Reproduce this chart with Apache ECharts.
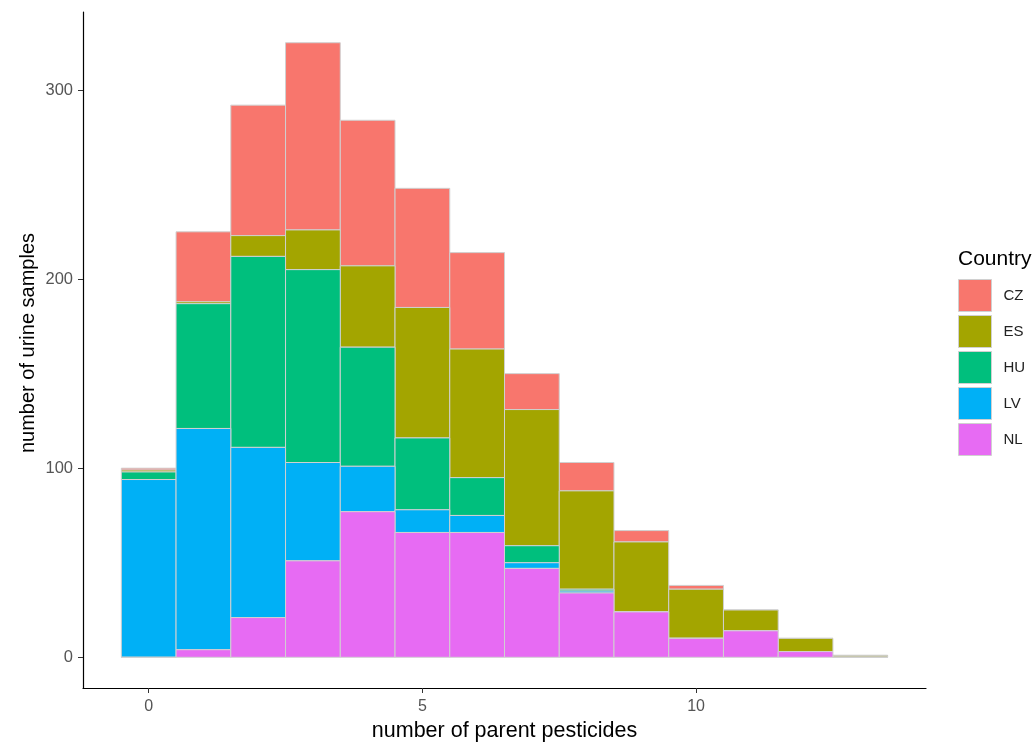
<!DOCTYPE html>
<html>
<head>
<meta charset="utf-8">
<script src="https://cdn.jsdelivr.net/npm/echarts@6/dist/echarts.min.js"></script>
<style>html,body{margin:0;padding:0;background:#fff}#c{width:1036px;height:744px}</style>
</head>
<body>
<div id="c"></div>
<script>
// bins: number of parent pesticides
const bins = [0,1,2,3,4,5,6,7,8,9,10,11,12,13];
// counts per country (stacked bottom -> top: NL, LV, HU, ES, CZ)
const NL = [0, 4, 21, 51, 77, 66, 66, 47, 34, 24, 10, 14, 3, 0];
const LV = [94,117,90, 52, 24, 12,  9,  3,  1,  0,  0,  0, 0, 0];
const HU = [4, 66,101,102, 63, 38, 20,  9,  1,  0,  0,  0, 0, 0];
const ES = [1,  1, 11, 21, 43, 69, 68, 72, 52, 37, 26, 11, 7, 1];
const CZ = [1, 37, 69, 99, 77, 63, 51, 19, 15,  6,  2,  0, 0, 0];
const countries = ['CZ','ES','HU','LV','NL'];
const colors = {CZ:'#F8766D', ES:'#A3A500', HU:'#00BF7D', LV:'#00B0F6', NL:'#E76BF3'};
const xTicks = [0,5,10];
const yTicks = [0,100,200,300];

const stackOrder = [['NL',NL],['LV',LV],['HU',HU],['ES',ES],['CZ',CZ]];
const base = bins.map(()=>0);
const dataByName = {};
stackOrder.forEach(([name, vals])=>{
  dataByName[name] = bins.map((b,i)=>{
    const lo = base[i], hi = base[i] + vals[i];
    base[i] = hi;
    return [b, lo, hi];
  });
});

function renderItem(params, api){
  const x = api.value(0), lo = api.value(1), hi = api.value(2);
  const p0 = api.coord([x-0.5, hi]);
  const p1 = api.coord([x+0.5, lo]);
  return {
    type:'rect',
    shape:{x:p0[0], y:p0[1], width:p1[0]-p0[0], height:p1[1]-p0[1]},
    style:{fill: api.visual('color'), stroke:'#d0d0d0', lineWidth:1}
  };
}

const FONT = 'Liberation Sans, Arial, sans-serif';
const chart = echarts.init(document.getElementById('c'), null, {renderer:'canvas'});
chart.setOption({
  animation:false,
  backgroundColor:'#fff',
  color: countries.map(c=>colors[c]),
  textStyle:{fontFamily:FONT},
  grid:{left:83, right:110, top:12, bottom:56, containLabel:false, outerBoundsMode:'none'},
  xAxis:{
    type:'value', min:-1.2, max:14.2,
    name:'number of parent pesticides', nameLocation:'middle', nameGap:24,
    nameTextStyle:{fontSize:21.5, color:'#000', fontFamily:FONT},
    axisLine:{show:true, onZero:false, lineStyle:{color:'#000', width:1.2}},
    axisTick:{show:true, length:5, customValues:xTicks, lineStyle:{color:'#333'}},
    axisLabel:{show:true, customValues:xTicks, fontSize:16, color:'#555', margin:11, fontFamily:FONT},
    splitLine:{show:false}
  },
  yAxis:{
    type:'value', min:-16.25, max:341.25,
    axisLine:{show:true, onZero:false, lineStyle:{color:'#000', width:1.2}},
    axisTick:{show:true, length:5, customValues:yTicks, lineStyle:{color:'#333'}},
    axisLabel:{show:true, customValues:yTicks, fontSize:16.5, color:'#555', margin:10, fontFamily:FONT},
    splitLine:{show:false}
  },
  legend:{
    orient:'vertical', left:958, top:279, padding:0,
    data:countries,
    icon:'rect', itemWidth:33, itemHeight:32, itemGap:3,
    itemStyle:{borderColor:'#d0d0d0', borderWidth:1},
    textStyle:{fontSize:15, color:'#222', fontFamily:FONT, padding:[0,0,0,7]},
    selectedMode:false
  },
  graphic:[{
    type:'text', left:958, top:249,
    style:{text:'Country', fontSize:21, fill:'#000', fontFamily:FONT}
  },{
    type:'text', x:28, y:343, rotation:Math.PI/2,
    style:{text:'number of urine samples', fontSize:20, fill:'#000', fontFamily:FONT, align:'center', verticalAlign:'middle'}
  }],
  series: countries.map(name=>({
    type:'custom', name:name,
    renderItem: renderItem,
    itemStyle:{color:colors[name]},
    encode:{x:0, y:[1,2]},
    data: dataByName[name]
  }))
});
</script>
</body>
</html>
